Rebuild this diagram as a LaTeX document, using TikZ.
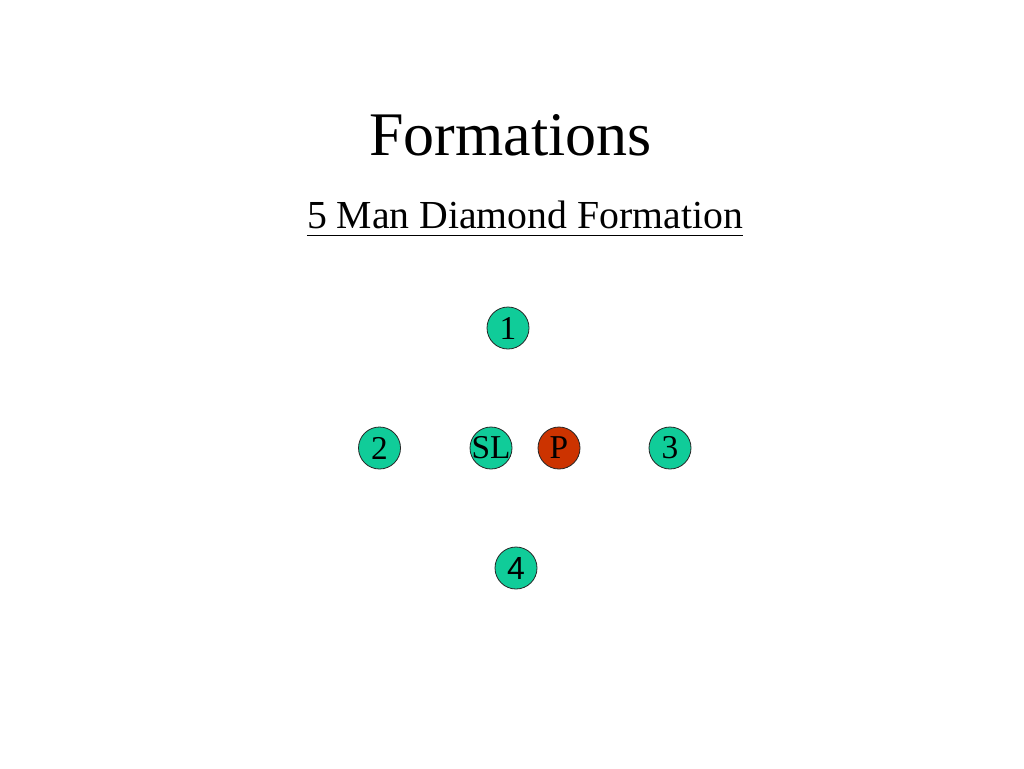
\documentclass[tikz,border=0pt]{standalone}
\usepackage{fontspec}
\setmainfont{Liberation Serif}
\newfontfamily\armfont{Liberation Sans}
\usepackage{tikz}
\usetikzlibrary{positioning}
\usepackage{xcolor}
\definecolor{fieldgreen}{RGB}{16,204,153}
\definecolor{pitcherred}{RGB}{204,51,0}

\tikzset{
    player/.style={circle, draw=black!85, line width=0.6pt, fill=fieldgreen,
        minimum size=31.5pt, inner sep=0pt, font=\fontsize{25}{25}\selectfont},
    pitcher/.style={player, fill=pitcherred}
}

\begin{document}
\begin{tikzpicture}[x=0.75pt, y=-0.75pt]
            \useasboundingbox[fill=white] (0,0) rectangle (1024,768);

            \node[anchor=base, inner sep=0pt, font=\fontsize{46.5}{46.5}\selectfont] (title) at (510.5,155) {Formations};
            \node[anchor=base, inner sep=0pt, font=\fontsize{29.8}{29.8}\selectfont] (sub) at (525,228) {5 Man Diamond Formation};
            \draw[line width=1.1pt] ([yshift=-5.5pt]sub.base west) -- ([yshift=-5.5pt]sub.base east);

            \node[player] (first) at (508,328) {1};
            \node[player] (second) at (379.5,448) {2};
            \node[player] (sl) at (491,448) {\makebox[0pt]{SL}};
            \node[pitcher] (p) at (559,448) {P};
            \node[player] (third) at (670,448) {3};
            \node[player, font=\armfont\fontsize{24}{24}\selectfont] (fourth) at (516,568) {4};
        \end{tikzpicture}
\end{document}
